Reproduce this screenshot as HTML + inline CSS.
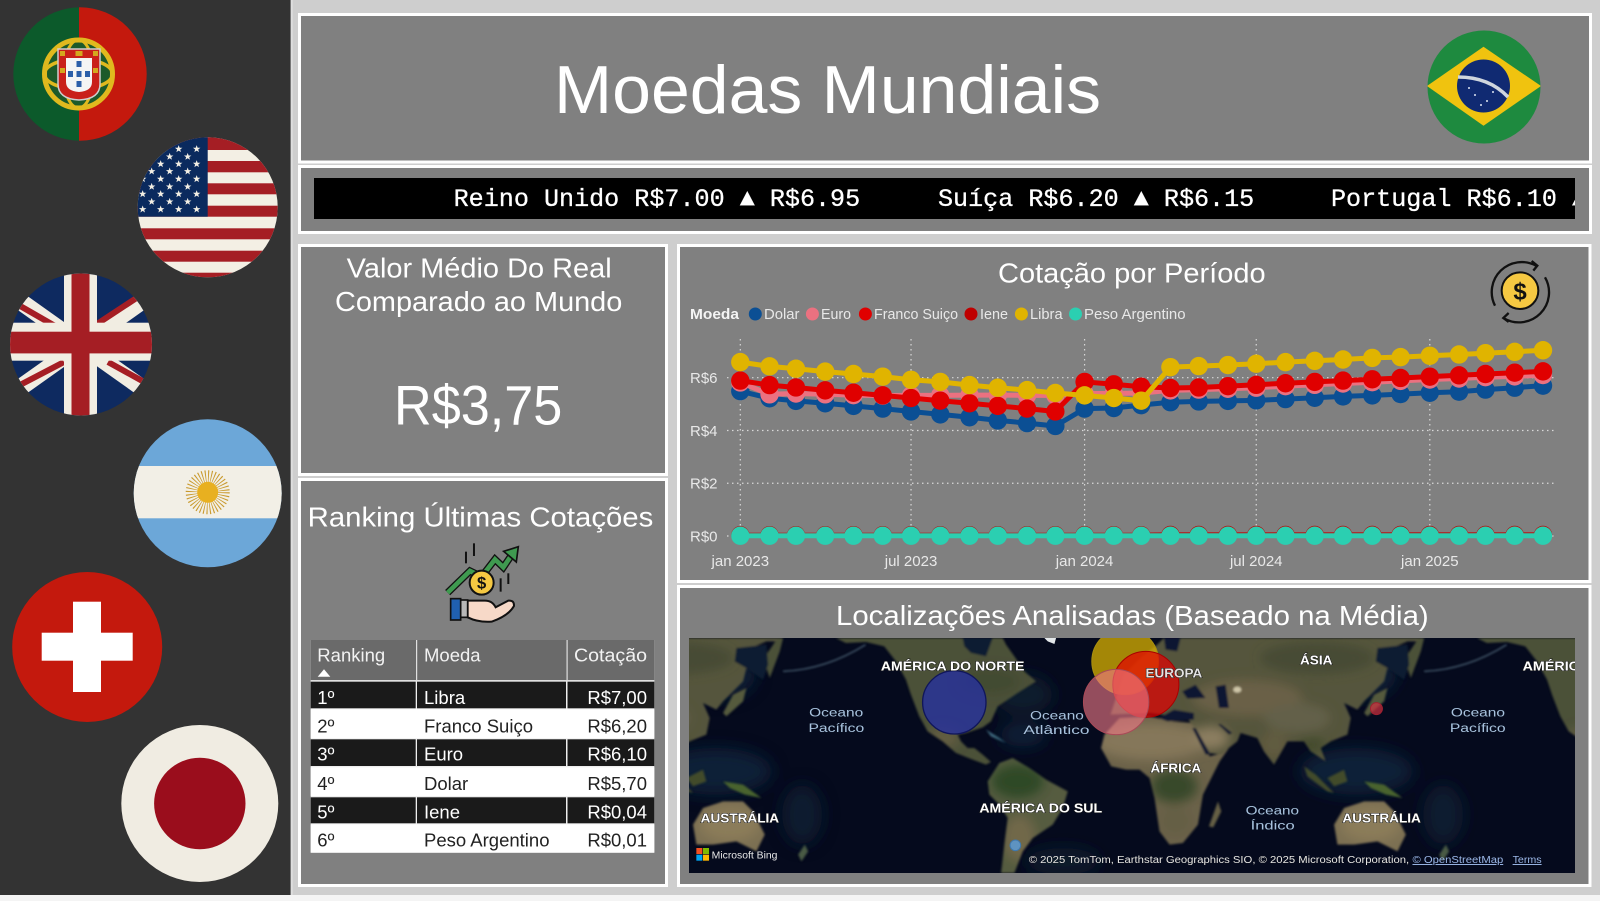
<!DOCTYPE html>
<html lang="pt-BR">
<head>
<meta charset="utf-8">
<title>Moedas Mundiais</title>
<style>
html,body{margin:0;padding:0;background:#cecece;width:1600px;height:901px;overflow:hidden}
svg{display:block}
text{font-family:"Liberation Sans",sans-serif}
.t{fill:#fff}
.mono{font-family:"Liberation Mono",monospace;fill:#fff;stroke:#fff;stroke-width:.3px}
.cell{font-size:18.5px}
.lg{fill:#e8e8e8;font-size:15px}
.ml{fill:#fff;font-weight:bold;font-size:39px;stroke:#1a1a1a;stroke-width:3px;paint-order:stroke}
.oc{fill:#a9c2de;font-size:37px;stroke:#0a1424;stroke-width:2px;paint-order:stroke}
</style>
</head>
<body>
<svg id="page" xmlns="http://www.w3.org/2000/svg" width="1600" height="901" viewBox="0 0 1600 901">
<defs>
  <clipPath id="c-pt"><circle cx="80" cy="74" r="66.7"/></clipPath>
  <clipPath id="c-us"><circle cx="207.7" cy="207.3" r="70"/></clipPath>
  <clipPath id="c-uk"><circle cx="81" cy="344.5" r="71"/></clipPath>
  <clipPath id="c-ar"><circle cx="207.7" cy="493.3" r="74"/></clipPath>
  <clipPath id="c-br"><circle cx="1484" cy="87" r="56.5"/></clipPath>
  <clipPath id="c-tick"><rect x="314" y="178" width="1261" height="41"/></clipPath>
  <filter id="soft" x="-5%" y="-5%" width="110%" height="110%"><feGaussianBlur stdDeviation="3"/></filter>
  <filter id="patch" x="-20%" y="-20%" width="140%" height="140%"><feGaussianBlur stdDeviation="16"/></filter>
  <filter id="softer" x="-30%" y="-30%" width="160%" height="160%"><feGaussianBlur stdDeviation="24"/></filter>
  <polygon id="star" points="0,-7 1.8,-2.2 6.8,-2.2 2.8,0.9 4.2,5.7 0,2.9 -4.2,5.7 -2.8,0.9 -6.8,-2.2 -1.8,-2.2"/>
  <polygon id="p-namerica" points="440,0 470,15 530,12 585,25 620,70 650,125 665,170 690,235 715,280 760,310 800,345 850,365 890,380 905,372 880,350 855,330 835,330 815,310 805,290 830,285 880,268 905,250 925,205 985,165 1040,130 1005,100 975,55 950,20 940,0"/>
  <polygon id="p-samerica" points="895,430 930,375 970,360 1020,390 1070,425 1135,460 1120,510 1090,560 1030,600 1000,640 975,705 935,705 945,620 955,540 930,500 900,470"/>
  <polygon id="p-africa" points="-88,330 -78,290 -33,240 57,235 127,250 187,255 202,290 237,355 277,345 302,320 267,370 217,470 202,560 157,615 117,620 87,580 72,480 57,420 27,395 -13,395 -58,385"/>
  <polygon id="p-eurasia" points="-60,230 -40,170 -20,110 30,60 80,20 100,0 880,0 860,10 830,10 760,40 735,70 770,90 760,130 700,190 680,215 640,195 660,240 650,290 600,310 570,330 585,370 540,340 520,310 470,310 430,380 400,340 380,300 330,285 320,310 270,350 235,345 195,275 170,240 60,225"/>
  <polygon id="p-australia" points="610,560 640,510 700,490 760,490 790,520 825,590 800,640 740,610 670,620 620,620"/>
  <clipPath id="c-land">
    <use href="#p-namerica"/><use href="#p-samerica"/>
    <use href="#p-africa" transform="translate(1323,0)"/><use href="#p-eurasia" transform="translate(1323,0)"/><use href="#p-australia" transform="translate(1323,0)"/>
  </clipPath>
</defs>

<rect width="1600" height="901" fill="#cecece"/>
<rect y="895" width="1600" height="6" fill="#f4f4f4"/>

<!-- SIDEBAR -->
<g>
  <rect width="290.7" height="895" fill="#333333"/>
  <rect x="290.7" width="2" height="895" fill="#dedede"/>

  <g clip-path="url(#c-pt)">
    <rect x="13" y="7" width="66" height="134" fill="#0c5a2b"/>
    <rect x="79" y="7" width="68" height="134" fill="#c4190d"/>
    <circle cx="78.500" cy="74" r="34" fill="#1c5a2a" stroke="#e0b91e" stroke-width="5"/>
    <ellipse cx="78.500" cy="74" rx="34" ry="15" fill="none" stroke="#e0b91e" stroke-width="3.500"/>
    <ellipse cx="78.500" cy="74" rx="15" ry="34" fill="none" stroke="#e0b91e" stroke-width="3"/>
    <path d="M58 49H100V84Q100 99 79 100Q58 99 58 84Z" fill="#c9201a" stroke="#cfcfcf" stroke-width="1.500"/>
    <path d="M66 58H92V82Q92 91 79 92Q66 91 66 82Z" fill="#f4f4f4"/>
    <g fill="#2b5ea8">
      <rect x="76.500" y="61" width="5" height="6"/><rect x="68" y="71" width="5" height="6"/>
      <rect x="76.500" y="71" width="5" height="6"/><rect x="85" y="71" width="5" height="6"/>
      <rect x="76.500" y="81" width="5" height="6"/>
    </g>
    <g fill="#d4a81e">
      <rect x="75.500" y="51" width="7" height="5"/><rect x="60" y="51" width="5" height="5"/><rect x="93" y="51" width="5" height="5"/>
      <rect x="60" y="68" width="5" height="5"/><rect x="93" y="68" width="5" height="5"/>
    </g>
  </g>

  <g clip-path="url(#c-us)">
    <rect x="137" y="137" width="141" height="141" fill="#f3efe4"/>
    <g fill="#a51e24">
      <rect x="137" y="137" width="141" height="13"/><rect x="137" y="161" width="141" height="11.300"/>
      <rect x="137" y="183.300" width="141" height="11"/><rect x="137" y="205.700" width="141" height="11"/>
      <rect x="137" y="228.300" width="141" height="11"/><rect x="137" y="250.700" width="141" height="11"/>
      <rect x="137" y="272.700" width="141" height="6"/>
    </g>
    <rect x="137" y="137" width="70.700" height="79.700" fill="#0a2a5e"/>
    <g id="us-stars" fill="#f3efe4"></g>
  </g>

  <g clip-path="url(#c-uk)">
    <rect x="10" y="273" width="142" height="143" fill="#0e2a60"/>
    <g stroke="#f1ede2" stroke-width="17">
      <line x1="0" y1="287" x2="162" y2="402"/><line x1="162" y1="287" x2="0" y2="402"/>
    </g>
    <g stroke="#a51e24" stroke-width="6">
      <line x1="15" y1="303" x2="55" y2="326"/><line x1="138" y1="297" x2="97" y2="324"/>
      <line x1="20" y1="385" x2="64" y2="362"/><line x1="108" y1="362" x2="146" y2="383"/>
    </g>
    <rect x="10" y="322.700" width="142" height="38" fill="#f1ede2"/>
    <rect x="64" y="273" width="33" height="143" fill="#f1ede2"/>
    <rect x="10" y="331.700" width="142" height="21.700" fill="#a51e24"/>
    <rect x="71.500" y="273" width="18" height="143" fill="#a51e24"/>
  </g>

  <g clip-path="url(#c-ar)">
    <rect x="133" y="419" width="150" height="149" fill="#6ca7d8"/>
    <rect x="133" y="466" width="150" height="52.300" fill="#f2efe6"/>
    <circle cx="207.700" cy="492.300" r="16" fill="none" stroke="#c99a2e" stroke-width="12" stroke-dasharray="0.900 1.900"/>
    <circle cx="207.700" cy="492.300" r="10.500" fill="#e8b020"/>
  </g>

  <g>
    <circle cx="87.200" cy="647" r="75" fill="#c4190d"/>
    <rect x="41.700" y="632.700" width="91" height="28" fill="#fff"/>
    <rect x="73" y="601.700" width="28" height="90.300" fill="#fff"/>
  </g>

  <g>
    <circle cx="199.800" cy="803.500" r="78.500" fill="#f0ece2"/>
    <circle cx="199.800" cy="803.500" r="45.700" fill="#9a0d1c"/>
  </g>
</g>

<!-- HEADER -->
<g>
  <rect x="299.500" y="14.500" width="1291" height="147.500" fill="#808080" stroke="#fff" stroke-width="3"/>
  <text class="t" x="554" y="113" font-size="68" textLength="547" lengthAdjust="spacingAndGlyphs">Moedas Mundiais</text>
  <g clip-path="url(#c-br)">
    <rect x="1427" y="30" width="114" height="114" fill="#1e8a3f"/>
    <polygon points="1427,86 1483.500,46.700 1541,86 1483.500,125.700" fill="#f0c30f"/>
    <circle cx="1483.500" cy="86" r="26.500" fill="#102a72"/>
    <path d="M1458 77Q1489 77 1508 97" fill="none" stroke="#cfd6de" stroke-width="3.500"/>
    <g fill="#dfe6f2"><circle cx="1475" cy="95" r="1"/><circle cx="1487" cy="101" r="1"/><circle cx="1493" cy="92" r="1"/><circle cx="1481" cy="105" r="1"/><circle cx="1469" cy="88" r="1"/></g>
  </g>
</g>

<!-- TICKER -->
<g>
  <rect x="299.500" y="166.500" width="1291" height="66" fill="#808080" stroke="#fff" stroke-width="3"/>
  <rect x="314" y="178" width="1261" height="41" fill="#000"/>
  <g clip-path="url(#c-tick)">
    <text class="mono" x="453.600" y="206" font-size="25.100">Reino Unido R$7.00 ▲ R$6.95</text>
    <text class="mono" x="938" y="206" font-size="25.100">Suíça R$6.20 ▲ R$6.15</text>
    <text class="mono" x="1331" y="206" font-size="25.100">Portugal R$6.10 ▲</text>
  </g>
</g>

<!-- KPI -->
<g>
  <rect x="299.500" y="245.500" width="367" height="229" fill="#808080" stroke="#fff" stroke-width="3"/>
  <text class="t" x="346.700" y="277.300" font-size="28" textLength="265" lengthAdjust="spacingAndGlyphs">Valor Médio Do Real</text>
  <text class="t" x="335" y="311" font-size="28" textLength="287.300" lengthAdjust="spacingAndGlyphs">Comparado ao Mundo</text>
  <text class="t" x="394" y="424.300" font-size="56" textLength="168.300" lengthAdjust="spacingAndGlyphs">R$3,75</text>
</g>

<!-- RANKING -->
<g>
  <rect x="299.500" y="479.500" width="367" height="406" fill="#808080" stroke="#fff" stroke-width="3"/>
  <text class="t" x="307.700" y="526.700" font-size="28" textLength="345.600" lengthAdjust="spacingAndGlyphs">Ranking Últimas Cotações</text>

  <g transform="translate(295,480) scale(0.3333)">
    <g stroke="#111" stroke-width="6" fill="none">
      <line x1="513" y1="215" x2="513" y2="250"/><line x1="537" y1="190" x2="537" y2="228"/>
      <line x1="617" y1="295" x2="617" y2="335"/><line x1="640" y1="280" x2="640" y2="312"/>
    </g>
    <polyline points="458,338 525,273 560,290 600,238 625,262 652,222" fill="none" stroke="#111" stroke-width="22"/>
    <polyline points="458,338 525,273 560,290 600,238 625,262 652,222" fill="none" stroke="#3f9a50" stroke-width="14"/>
    <polygon points="670,200 664,246 626,214" fill="#3f9a50" stroke="#111" stroke-width="5"/>
    <circle cx="560" cy="308" r="36" fill="#f5c842" stroke="#111" stroke-width="6"/>
    <text x="560" y="326" text-anchor="middle" font-size="50" font-weight="bold" fill="#111">$</text>
    <path d="M518 362H570Q592 362 602 382L640 362Q658 360 657 378Q640 408 590 425Q550 428 518 412Z" fill="#f7d9c8" stroke="#111" stroke-width="6"/>
    <rect x="497" y="360" width="21" height="52" fill="#b8b8b8" stroke="#111" stroke-width="5"/>
    <rect x="467" y="356" width="30" height="64" fill="#2060b0" stroke="#111" stroke-width="5"/>
  </g>

  <g>
    <rect x="310.700" y="640" width="343.600" height="212.700" fill="#eeeeee"/>
    <g>
      <rect x="310.700" y="640" width="343.600" height="40" fill="#6a6a6a"/>
      <rect x="416" y="640" width="1.200" height="40" fill="#e0e0e0"/>
      <rect x="566.500" y="640" width="1.200" height="40" fill="#e0e0e0"/>
      <rect x="310.700" y="680" width="343.600" height="1.500" fill="#e0e0e0"/>
      <text class="cell" x="317.300" y="661.700" fill="#f2f2f2">Ranking</text>
      <polygon points="317.700,676.700 330.300,676.700 324,669.300" fill="#fff"/>
      <text class="cell" x="424" y="661.700" fill="#f2f2f2">Moeda</text>
      <text class="cell" x="574" y="661.700" fill="#f2f2f2" textLength="73" lengthAdjust="spacingAndGlyphs">Cotação</text>
    </g>
    <g>
      <rect x="310.700" y="681.700" width="105" height="26.600" fill="#1a1a1a"/><rect x="417" y="681.700" width="149" height="26.600" fill="#1a1a1a"/><rect x="567.500" y="681.700" width="86.800" height="26.600" fill="#1a1a1a"/>
      <text class="cell" x="317.300" y="704" fill="#fff">1º</text><text class="cell" x="424" y="704" fill="#fff">Libra</text><text class="cell" x="647" y="704" fill="#fff" text-anchor="end">R$7,00</text>
    </g>
    <g>
      <rect x="310.700" y="709.300" width="343.600" height="29" fill="#fff"/>
      <text class="cell" x="317.300" y="732.300" fill="#222">2º</text><text class="cell" x="424" y="732.300" fill="#222">Franco Suiço</text><text class="cell" x="647" y="732.300" fill="#222" text-anchor="end">R$6,20</text>
    </g>
    <g>
      <rect x="310.700" y="739.300" width="105" height="26.700" fill="#1a1a1a"/><rect x="417" y="739.300" width="149" height="26.700" fill="#1a1a1a"/><rect x="567.500" y="739.300" width="86.800" height="26.700" fill="#1a1a1a"/>
      <text class="cell" x="317.300" y="760.700" fill="#fff">3º</text><text class="cell" x="424" y="760.700" fill="#fff">Euro</text><text class="cell" x="647" y="760.700" fill="#fff" text-anchor="end">R$6,10</text>
    </g>
    <g>
      <rect x="310.700" y="767.300" width="343.600" height="28.700" fill="#fff"/>
      <text class="cell" x="317.300" y="790" fill="#222">4º</text><text class="cell" x="424" y="790" fill="#222">Dolar</text><text class="cell" x="647" y="790" fill="#222" text-anchor="end">R$5,70</text>
    </g>
    <g>
      <rect x="310.700" y="797.300" width="105" height="26" fill="#1a1a1a"/><rect x="417" y="797.300" width="149" height="26" fill="#1a1a1a"/><rect x="567.500" y="797.300" width="86.800" height="26" fill="#1a1a1a"/>
      <text class="cell" x="317.300" y="818.300" fill="#fff">5º</text><text class="cell" x="424" y="818.300" fill="#fff">Iene</text><text class="cell" x="647" y="818.300" fill="#fff" text-anchor="end">R$0,04</text>
    </g>
    <g>
      <rect x="310.700" y="824.300" width="343.600" height="28.400" fill="#fff"/>
      <text class="cell" x="317.300" y="846.700" fill="#222">6º</text><text class="cell" x="424" y="846.700" fill="#222">Peso Argentino</text><text class="cell" x="647" y="846.700" fill="#222" text-anchor="end">R$0,01</text>
    </g>
  </g>
</g>

<!-- LINE CHART -->
<g>
  <rect x="678.500" y="245.500" width="911.500" height="336" fill="#808080" stroke="#fff" stroke-width="3"/>
  <text class="t" x="998" y="282.700" font-size="28" textLength="267.600" lengthAdjust="spacingAndGlyphs">Cotação por Período</text>
  <g transform="translate(1460,250) scale(0.3333)">
    <path d="M105 167A90 90 0 0 1 228 47" fill="none" stroke="#111" stroke-width="7"/>
    <polyline points="215,33 232,47 220,62" fill="none" stroke="#111" stroke-width="7"/>
    <path d="M255 82A90 90 0 0 1 132 205" fill="none" stroke="#111" stroke-width="7"/>
    <polyline points="146,189 130,204 146,216" fill="none" stroke="#111" stroke-width="7"/>
    <circle cx="180" cy="122" r="55" fill="#f5c842" stroke="#111" stroke-width="6"/>
    <text x="180" y="148" text-anchor="middle" font-size="72" font-weight="bold" fill="#111">$</text>
  </g>
  <g>
    <text x="690" y="319" font-size="15" font-weight="bold" fill="#f4f4f4" textLength="49" lengthAdjust="spacingAndGlyphs">Moeda</text>
    <g><circle cx="755.300" cy="314" r="6.500" fill="#0b4f94"/><text class="lg" x="764" y="319" textLength="35.500" lengthAdjust="spacingAndGlyphs">Dolar</text></g>
    <g><circle cx="812.400" cy="314" r="6.500" fill="#eb7180"/><text class="lg" x="821" y="319" textLength="30" lengthAdjust="spacingAndGlyphs">Euro</text></g>
    <g><circle cx="865.400" cy="314" r="6.500" fill="#e00000"/><text class="lg" x="874" y="319" textLength="84" lengthAdjust="spacingAndGlyphs">Franco Suiço</text></g>
    <g><circle cx="971" cy="314" r="6.500" fill="#bf0000"/><text class="lg" x="980" y="319" textLength="28" lengthAdjust="spacingAndGlyphs">Iene</text></g>
    <g><circle cx="1021.400" cy="314" r="6.500" fill="#e0b400"/><text class="lg" x="1030" y="319" textLength="32.600" lengthAdjust="spacingAndGlyphs">Libra</text></g>
    <g><circle cx="1075.500" cy="314" r="6.500" fill="#2bcfb1"/><text class="lg" x="1084" y="319" textLength="101.600" lengthAdjust="spacingAndGlyphs">Peso Argentino</text></g>
  </g>
  <g id="chart"></g>
</g>

<!-- MAP -->
<g>
  <rect x="678.500" y="586.500" width="911.500" height="299" fill="#808080" stroke="#fff" stroke-width="3"/>
  <text class="t" x="836" y="625" font-size="28" textLength="592.700" lengthAdjust="spacingAndGlyphs">Localizações Analisadas (Baseado na Média)</text>
  <svg x="689" y="638" width="886" height="235" viewBox="0 0 2655 705" preserveAspectRatio="none">
    <rect width="2655" height="705" fill="#050a1d"/>
    <defs>
      <g id="world">
        <g filter="url(#softer)" fill="#102a40" fill-opacity=".75">
          <ellipse cx="2000" cy="400" rx="170" ry="70"/>
          <ellipse cx="1000" cy="290" rx="70" ry="35"/>
          <ellipse cx="2010" cy="110" rx="110" ry="70"/>
          <ellipse cx="1120" cy="670" rx="110" ry="40" fill="#0c2032"/>
          <ellipse cx="2260" cy="530" rx="60" ry="90" fill="#0c2234"/>
          <ellipse cx="1000" cy="170" rx="90" ry="60" fill="#0c2032"/>
        </g>
        <g filter="url(#soft)">
          <use href="#p-namerica" fill="#4c5139"/>
          <use href="#p-samerica" fill="#565c40"/>
          <g transform="translate(1323,0)">
            <use href="#p-africa" fill="#6c634a"/>
            <use href="#p-eurasia" fill="#55553c"/>
            <use href="#p-australia" fill="#7c7052"/>
          </g>
          <g clip-path="url(#c-land)">
            <g filter="url(#patch)">
              <ellipse cx="760" cy="300" rx="50" ry="30" fill="#645d42"/>
              <ellipse cx="900" cy="130" rx="90" ry="40" fill="#434b33"/>
              <ellipse cx="985" cy="430" rx="78" ry="50" fill="#2f4a28"/>
              <ellipse cx="990" cy="600" rx="50" ry="70" fill="#716849"/>
              <g transform="translate(1323,0)">
                <ellipse cx="60" cy="310" rx="170" ry="55" fill="#85775a"/>
                <ellipse cx="130" cy="445" rx="70" ry="50" fill="#394a29"/>
                <ellipse cx="135" cy="550" rx="50" ry="45" fill="#655f44"/>
                <ellipse cx="350" cy="180" rx="165" ry="55" fill="#6a6046"/>
                <ellipse cx="240" cy="300" rx="55" ry="35" fill="#8c7e60"/>
                <ellipse cx="500" cy="240" rx="100" ry="45" fill="#64604a"/>
                <ellipse cx="430" cy="320" rx="40" ry="40" fill="#625c40"/>
                <ellipse cx="540" cy="320" rx="40" ry="22" fill="#424c2c"/>
                <ellipse cx="560" cy="60" rx="170" ry="45" fill="#474b34"/>
                <ellipse cx="720" cy="560" rx="90" ry="50" fill="#8b7c5a"/>
              </g>
            </g>
          </g>
          <polygon points="820,0 910,0 890,55 845,45 825,25" fill="#0a1a30"/>
          <polygon points="890,275 930,300 950,315 905,295" fill="#3f6c80"/>
          <g transform="translate(1323,0)">
            <polygon points="880,0 870,40 840,120 830,90 830,50 860,5" fill="#4c5139"/>
            <polygon points="730,170 770,150 760,190 710,235 700,225" fill="#545a3c"/>
            <polygon points="740,30 830,20 835,80 820,125 770,90 735,70" fill="#0c1f32"/>
            <polygon points="85,240 130,215 190,225 190,245 110,250" fill="#0a1730"/>
            <polygon points="155,160 195,140 225,180 170,182" fill="#0a1730"/>
            <polygon points="255,145 285,140 295,210 265,210" fill="#0a1730"/>
            <polygon points="185,270 195,270 240,350 225,350" fill="#0a1730"/>
            <polygon points="262,258 270,258 305,285 295,290" fill="#0a1730"/>
            <polygon points="100,0 150,0 140,40 105,35" fill="#0a1730"/>
            <ellipse cx="320" cy="155" rx="12" ry="9" fill="#cfc6a8"/>
            <polygon points="235,565 262,490 272,520 248,568" fill="#655f44"/>
            <polygon points="520,385 555,410 610,465 590,460 530,415" fill="#424c2c"/>
            <polygon points="590,420 640,395 650,430 610,445" fill="#424c2c"/>
            <polygon points="700,430 760,440 815,480 765,470 720,450" fill="#4a642e"/>
            <polygon points="925,650 945,620 955,640 935,670" fill="#4a5a44"/>
          </g>
          <path d="M2203 100Q2330 95 2450 20" fill="none" stroke="#4a6072" stroke-width="4"/>
        </g>
      </g>
    </defs>
    <use href="#world"/>
    <use href="#world" transform="translate(-1921,0)"/>
    <use href="#world" transform="translate(1921,0)"/>
    <polygon points="1065,0 1100,0 1095,18 1075,10" fill="#e4e8ea"/>

    <circle cx="1307" cy="70" r="100" fill="#dcb400" fill-opacity=".74" stroke="#a98f10" stroke-width="3"/>
    <circle cx="1369" cy="139" r="99" fill="#e60000" fill-opacity=".7" stroke="#a80000" stroke-width="3"/>
    <circle cx="795" cy="193" r="95" fill="#2530a0" fill-opacity=".78" stroke="#10165a" stroke-width="4"/>
    <circle cx="1280" cy="192" r="98" fill="#ee7884" fill-opacity=".62" stroke="#a94a58" stroke-width="3"/>
    <circle cx="2060" cy="212" r="18" fill="#d03040" fill-opacity=".7" stroke="#a02030" stroke-width="3"/>
    <circle cx="978" cy="622" r="16" fill="#5b9bd5" fill-opacity=".85" stroke="#3f78ae" stroke-width="3"/>

    <text class="ml" x="575" y="97" textLength="430" lengthAdjust="spacingAndGlyphs">AMÉRICA DO NORTE</text>
    <text class="ml" x="870" y="524" textLength="368" lengthAdjust="spacingAndGlyphs">AMÉRICA DO SUL</text>
    <text class="ml" x="35" y="553" textLength="235" lengthAdjust="spacingAndGlyphs">AUSTRÁLIA</text>
    <text class="ml" x="1958" y="553" textLength="235" lengthAdjust="spacingAndGlyphs">AUSTRÁLIA</text>
    <text class="ml" x="1368" y="118" textLength="170" lengthAdjust="spacingAndGlyphs" fill-opacity=".85">EUROPA</text>
    <text class="ml" x="1831" y="80" textLength="97" lengthAdjust="spacingAndGlyphs">ÁSIA</text>
    <text class="ml" x="1383" y="403" textLength="152" lengthAdjust="spacingAndGlyphs">ÁFRICA</text>
    <text class="ml" x="2498" y="97" textLength="200" lengthAdjust="spacingAndGlyphs">AMÉRICA</text>
    <g>
      <text class="oc" x="360" y="236" textLength="162" lengthAdjust="spacingAndGlyphs">Oceano</text>
      <text class="oc" x="358" y="282" textLength="167" lengthAdjust="spacingAndGlyphs">Pacífico</text>
    </g>
    <g>
      <text class="oc" x="2283" y="236" textLength="162" lengthAdjust="spacingAndGlyphs">Oceano</text>
      <text class="oc" x="2280" y="282" textLength="167" lengthAdjust="spacingAndGlyphs">Pacífico</text>
    </g>
    <g>
      <text class="oc" x="1022" y="244" textLength="161" lengthAdjust="spacingAndGlyphs">Oceano</text>
      <text class="oc" x="1002" y="288" textLength="198" lengthAdjust="spacingAndGlyphs">Atlântico</text>
    </g>
    <g>
      <text class="oc" x="1668" y="530" textLength="160" lengthAdjust="spacingAndGlyphs">Oceano</text>
      <text class="oc" x="1683" y="574" textLength="132" lengthAdjust="spacingAndGlyphs">Índico</text>
    </g>
    <g>
      <rect x="22" y="630" width="18" height="18" fill="#f25022"/><rect x="42" y="630" width="18" height="18" fill="#7fba00"/>
      <rect x="22" y="650" width="18" height="18" fill="#00a4ef"/><rect x="42" y="650" width="18" height="18" fill="#ffb900"/>
      <text x="68" y="662" font-size="29" fill="#e8e8e8" textLength="197" lengthAdjust="spacingAndGlyphs">Microsoft Bing</text>
    </g>
    <text x="1018" y="675" font-size="29" fill="#e4e4e4" stroke="#111" stroke-width="1" paint-order="stroke" textLength="1140" lengthAdjust="spacingAndGlyphs">© 2025 TomTom, Earthstar Geographics SIO, © 2025 Microsoft Corporation,</text>
    <text x="2168" y="675" font-size="29" fill="#9cb8e8" text-decoration="underline" textLength="272" lengthAdjust="spacingAndGlyphs">© OpenStreetMap</text>
    <text x="2468" y="675" font-size="29" fill="#9cb8e8" text-decoration="underline" textLength="87" lengthAdjust="spacingAndGlyphs">Terms</text>
  </svg>
</g>
</svg>

<script>
// ---- Chart data ----
const months = ['2023-01','2023-02','2023-03','2023-04','2023-05','2023-06','2023-07','2023-08','2023-09','2023-10','2023-11','2023-12','2024-01','2024-02','2024-03','2024-04','2024-05','2024-06','2024-07','2024-08','2024-09','2024-10','2024-11','2024-12','2025-01','2025-02','2025-03','2025-04','2025-05'];
const dolar = [5.49,5.22,5.12,5.03,4.93,4.83,4.72,4.61,4.50,4.38,4.28,4.17,4.83,4.85,4.96,5.07,5.10,5.12,5.14,5.19,5.24,5.29,5.33,5.38,5.43,5.47,5.55,5.62,5.70];
const euro = [5.82,5.37,5.40,5.37,5.34,5.32,5.33,5.33,5.34,5.34,5.33,5.33,5.40,5.40,5.42,5.52,5.55,5.58,5.62,5.68,5.73,5.78,5.83,5.88,5.93,5.97,6.02,6.05,6.10];
const franco = [5.89,5.72,5.63,5.52,5.43,5.33,5.23,5.13,5.03,4.93,4.83,4.72,5.84,5.75,5.66,5.61,5.63,5.68,5.73,5.79,5.84,5.89,5.94,5.99,6.04,6.09,6.14,6.19,6.24];
const iene = [0.03,0.03,0.03,0.03,0.03,0.03,0.03,0.03,0.03,0.03,0.03,0.03,0.03,0.03,0.03,0.04,0.04,0.04,0.04,0.04,0.04,0.04,0.04,0.04,0.04,0.04,0.04,0.04,0.04];
const libra = [6.59,6.43,6.34,6.23,6.14,6.04,5.92,5.84,5.72,5.62,5.53,5.42,5.33,5.23,5.13,6.40,6.44,6.48,6.53,6.59,6.64,6.69,6.75,6.78,6.83,6.88,6.93,6.98,7.04];
const peso = [0.01,0.01,0.01,0.01,0.01,0.01,0.01,0.01,0.01,0.01,0.01,0.01,0.01,0.01,0.01,0.01,0.01,0.01,0.01,0.01,0.01,0.01,0.01,0.01,0.01,0.01,0.01,0.01,0.01];
const yTicks = [0,2,4,6];
const yTickLabels = ['R$0','R$2','R$4','R$6'];
const xTicks = ['2023-01','2023-07','2024-01','2024-07','2025-01'];
const xTickLabels = ['jan 2023','jul 2023','jan 2024','jul 2024','jan 2025'];
const seriesNames = ['dolar','euro','franco-suico','iene','libra','peso-argentino'];
const seriesValues = [dolar,euro,franco,iene,libra,peso];
const seriesColors = ['#0b4f94','#eb7180','#e00000','#bf0000','#e0b400','#2bcfb1'];

const NS = 'http://www.w3.org/2000/svg';
const chart = document.getElementById('chart');
const t0 = Date.UTC(2023,0,1), t1 = Date.UTC(2025,4,1);
function xScale(m){
  const p = m.split('-');
  const t = Date.UTC(+p[0], +p[1]-1, 1);
  return 740.3 + (t-t0)/(t1-t0)*(1543-740.3);
}
function yScale(v){ return 536 - v*(536-377.7)/6; }

yTicks.forEach(function(v,i){
  const l = document.createElementNS(NS,'line');
  
  
  l.setAttribute('x1',727); l.setAttribute('x2',1557);
  l.setAttribute('y1',yScale(v)); l.setAttribute('y2',yScale(v));
  l.setAttribute('stroke','#d8d8d8'); l.setAttribute('stroke-width','1.2'); l.setAttribute('stroke-dasharray','1.5 3.5');
  chart.appendChild(l);
  const t = document.createElementNS(NS,'text');
  
  
  t.setAttribute('x',690); t.setAttribute('y',yScale(v)+5.500);
  t.setAttribute('font-size','15'); t.setAttribute('fill','#e8e8e8');
  t.textContent = yTickLabels[i];
  chart.appendChild(t);
});
xTicks.forEach(function(m,i){
  const l = document.createElementNS(NS,'line');
  
  
  l.setAttribute('x1',xScale(m)); l.setAttribute('x2',xScale(m));
  l.setAttribute('y1',339); l.setAttribute('y2',536);
  l.setAttribute('stroke','#d8d8d8'); l.setAttribute('stroke-width','1.2'); l.setAttribute('stroke-dasharray','1.5 3.5');
  chart.appendChild(l);
  const t = document.createElementNS(NS,'text');
  
  
  t.setAttribute('x',xScale(m)); t.setAttribute('y',566);
  t.setAttribute('text-anchor','middle');
  t.setAttribute('font-size','15'); t.setAttribute('fill','#e8e8e8');
  t.textContent = xTickLabels[i];
  chart.appendChild(t);
});
seriesValues.forEach(function(vals,si){
  const g = document.createElementNS(NS,'g');
  
  
  const pl = document.createElementNS(NS,'polyline');
  
  
  pl.setAttribute('points', vals.map(function(v,i){ return xScale(months[i]).toFixed(1)+','+yScale(v).toFixed(1); }).join(' '));
  pl.setAttribute('fill','none');
  pl.setAttribute('stroke',seriesColors[si]);
  pl.setAttribute('stroke-width','5');
  g.appendChild(pl);
  vals.forEach(function(v,i){
    const c = document.createElementNS(NS,'circle');
    
    
    c.setAttribute('cx',xScale(months[i]));
    c.setAttribute('cy',yScale(v));
    c.setAttribute('r',9.2);
    c.setAttribute('fill',seriesColors[si]);
    g.appendChild(c);
  });
  chart.appendChild(g);
});

// USA flag stars
const starRows = [[536,590],[509,563],[482,536,590],[455,509,563],[428,482,536,590],[455,509,563],[428,482,536,590],[455,509,563],[428,482,536,590]];
const starRowY = [447,470,492,514,537,560,582,605,628];
const starsG = document.getElementById('us-stars');
starRows.forEach(function(r,ri){
  r.forEach(function(x){
    const u = document.createElementNS(NS,'use');
    
    
    u.setAttribute('href','#star');
    u.setAttribute('transform','translate('+(x/3)+','+(starRowY[ri]/3)+') scale(0.55)');
    starsG.appendChild(u);
  });
});
</script>
</body>
</html>
